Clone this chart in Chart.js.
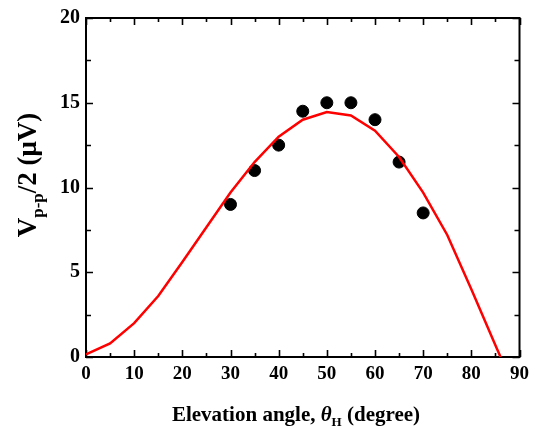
<!DOCTYPE html>
<html>
<head>
<meta charset="utf-8">
<script src="https://cdn.jsdelivr.net/npm/chart.js@4.4.1/dist/chart.umd.min.js"></script>
<style>
  body { margin: 0; background: #fff; }
  #wrap { width: 535px; height: 428px; }
</style>
</head>
<body>
<div id="wrap"><canvas id="angleChart" width="535" height="428"></canvas></div>
<script>
// measured amplitude (dots)
const measuredAngles = [30, 35, 40, 45, 50, 55, 60, 65, 70];
const measuredValues = [9, 11, 12.5, 14.5, 15, 15, 14, 11.5, 8.5];

// calculated curve (red line)
const calcAngles = [0, 5, 10, 15, 20, 25, 30, 35, 40, 45, 50, 55, 60, 65, 70, 75, 80, 85, 90];
const calcValues = [0.15, 0.8, 2.0, 3.6, 5.6, 7.65, 9.7, 11.5, 13.0, 14.0, 14.45, 14.25, 13.35, 11.8, 9.7, 7.2, 4.0, 0.7, -2.6];

// labelled ticks, minor ticks fall halfway between
const xTickLabels = [0, 10, 20, 30, 40, 50, 60, 70, 80, 90];
const yTickLabels = [0, 5, 10, 15, 20];

const serif = "'Liberation Serif', 'Times New Roman', serif";

function toPoints(xs, ys) {
    return xs.map((v, i) => ({ x: v, y: ys[i] }));
}

// draws a line of text made of several runs (for subscripts)
function drawRuns(ctx, runs, cx, baseline) {
    let total = 0;
    runs.forEach(r => { ctx.font = r.font; total += ctx.measureText(r.text).width; });
    let x = cx - total / 2;
    runs.forEach(r => {
        ctx.font = r.font;
        ctx.fillText(r.text, x, baseline + (r.dy || 0));
        x += ctx.measureText(r.text).width;
    });
}

const framePlugin = {
    id: 'frame',
    beforeDatasetsDraw(chart) {
        const { ctx, chartArea: a, scales } = chart;
        ctx.save();
        ctx.strokeStyle = '#000';
        ctx.lineWidth = 1.6;
        ctx.beginPath();
        scales.x.ticks.forEach(t => {
            const px = Math.round(scales.x.getPixelForValue(t.value)) + 0.5;
            const len = xTickLabels.includes(t.value) ? 7 : 4;
            ctx.moveTo(px, a.bottom); ctx.lineTo(px, a.bottom - len);
            ctx.moveTo(px, a.top); ctx.lineTo(px, a.top + len);
        });
        scales.y.ticks.forEach(t => {
            const py = Math.round(scales.y.getPixelForValue(t.value)) + 0.5;
            const len = yTickLabels.includes(t.value) ? 7 : 5;
            ctx.moveTo(a.left, py); ctx.lineTo(a.left + len, py);
            ctx.moveTo(a.right, py); ctx.lineTo(a.right - len, py);
        });
        ctx.stroke();
        ctx.lineWidth = 2;
        ctx.strokeRect(a.left, a.top, a.right - a.left, a.bottom - a.top);
        ctx.restore();
    },
    afterDraw(chart) {
        const { ctx } = chart;
        ctx.save();
        ctx.fillStyle = '#000';
        ctx.textBaseline = 'alphabetic';
        ctx.textAlign = 'left';

        // x axis title
        drawRuns(ctx, [
            { text: 'Elevation angle, ', font: 'bold 21px ' + serif },
            { text: 'θ', font: 'italic bold 21px ' + serif },
            { text: 'H', font: 'bold 13px ' + serif, dy: 5 },
            { text: ' (degree)', font: 'bold 21px ' + serif }
        ], 296, 421);

        // y axis title, rotated
        ctx.translate(36, 175);
        ctx.rotate(-Math.PI / 2);
        drawRuns(ctx, [
            { text: 'V', font: 'bold 27px ' + serif },
            { text: 'p-p', font: 'bold 17px ' + serif, dy: 7 },
            { text: '/2 (μV)', font: 'bold 27px ' + serif }
        ], 0, 0);
        ctx.restore();
    }
};

new Chart(document.getElementById('angleChart'), {
    type: 'scatter',
    data: {
        datasets: [{
            type: 'line',
            label: 'Calculated',
            data: toPoints(calcAngles, calcValues),
            borderColor: '#ff0000',
            borderWidth: 2.5,
            pointRadius: 0,
            tension: 0,
            fill: false,
            clip: 0
        }, {
            label: 'Measured',
            data: toPoints(measuredAngles, measuredValues),
            backgroundColor: '#000',
            borderColor: '#000',
            pointRadius: 6,
            pointHoverRadius: 6
        }]
    },
    options: {
        responsive: false,
        animation: false,
        events: [],
        layout: { padding: { top: 18, right: 14, left: 0, bottom: 0 } },
        plugins: {
            legend: { display: false },
            tooltip: { enabled: false }
        },
        scales: {
            x: {
                type: 'linear',
                min: 0,
                max: 90,
                grid: { drawOnChartArea: false, drawTicks: false },
                border: { display: false },
                ticks: {
                    stepSize: 5,
                    autoSkip: false,
                    maxRotation: 0,
                    padding: 6,
                    color: '#000',
                    font: { family: serif, size: 19, weight: 'bold' },
                    callback: v => xTickLabels.includes(v) ? v : ''
                },
                afterFit: scale => { scale.height = 71; }
            },
            y: {
                min: 0,
                max: 20,
                grid: { drawOnChartArea: false, drawTicks: false },
                border: { display: false },
                ticks: {
                    stepSize: 2.5,
                    autoSkip: false,
                    padding: 6,
                    color: '#000',
                    font: { family: serif, size: 20, weight: 'bold' },
                    callback: v => yTickLabels.includes(v) ? v : ''
                },
                afterFit: scale => { scale.width = 86; }
            }
        }
    },
    plugins: [framePlugin]
});
</script>
</body>
</html>
